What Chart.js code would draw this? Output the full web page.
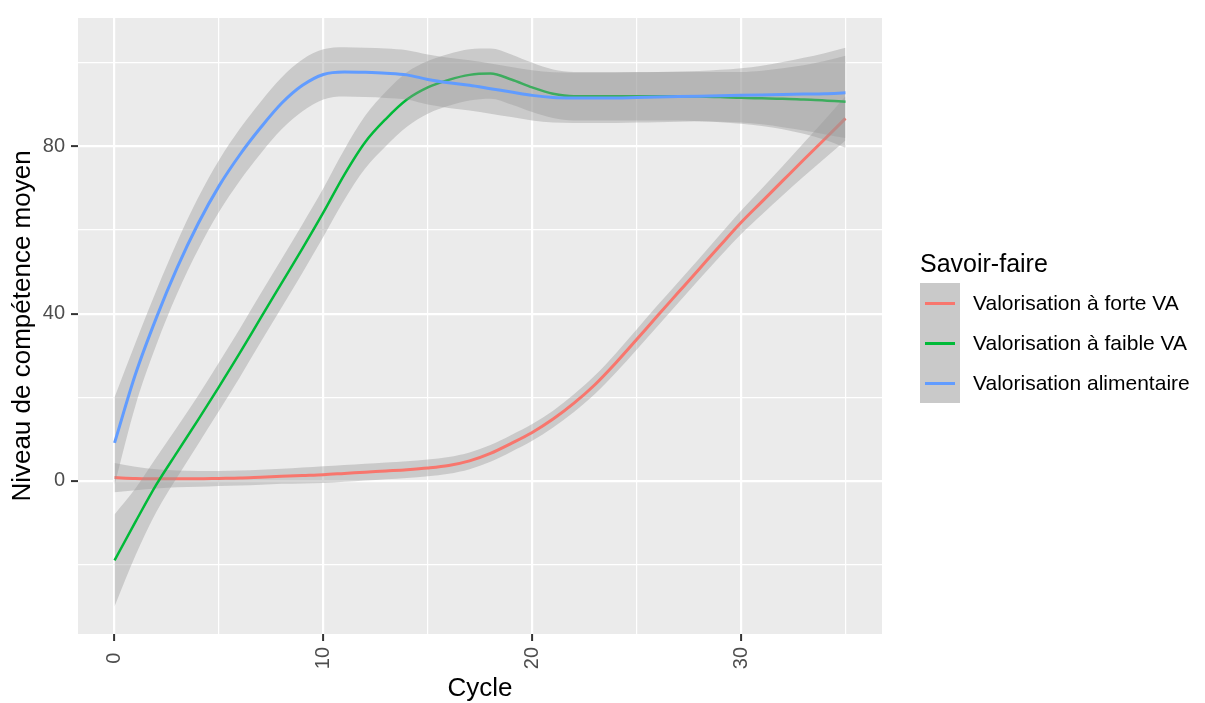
<!DOCTYPE html>
<html>
<head>
<meta charset="utf-8">
<title>Niveau de compétence moyen par cycle</title>
<script src="https://cdn.jsdelivr.net/npm/chart.js@4.4.1/dist/chart.umd.min.js"></script>
<style>
  body { margin: 0; background: #fff; font-family: "Liberation Sans", Arial, sans-serif; }
  #wrap { position: relative; width: 1205px; height: 703px; }
  #legend { position: absolute; left: 920px; top: 246px; }
  .legend-title { font-size: 25px; line-height: 34px; height: 37px; color: #000; }
  .legend-row { display: flex; align-items: center; height: 40px; }
  .legend-key { position: relative; width: 40px; height: 40px; background: #c9c9c9; }
  .legend-key span { position: absolute; left: 5px; right: 5px; top: 18.5px; height: 3px; }
  .legend-label { margin-left: 13px; font-size: 21px; color: #000; white-space: nowrap; }
</style>
</head>
<body>
<div id="wrap">
  <canvas id="myChart" width="1205" height="703"></canvas>
  <div id="legend">
    <div class="legend-title">Savoir-faire</div>
    <div id="legendItems"></div>
  </div>
</div>
<script>
const cycles = [0, 1, 2, 3, 4, 5, 6, 7, 8, 9, 10, 11, 12, 13, 14, 15, 16, 17,
    18, 19, 20, 21, 22, 23, 24, 25, 26, 27, 28, 29, 30, 31, 32, 33, 34, 35];

// Valorisation à forte VA
const forteFit = [0.8, 0.6, 0.5, 0.5, 0.5, 0.6, 0.7, 0.9, 1.1, 1.3, 1.5, 1.8, 2.1, 2.4, 2.7, 3.1, 3.7, 4.8,
    6.6, 9.0, 11.6, 14.8, 18.6, 23.0, 28.2, 33.8, 39.5, 45.1, 50.7, 56.3, 61.8, 66.8, 71.8, 76.8, 81.7, 86.7];
const forteLow = [-2.7, -2.2, -1.8, -1.5, -1.4, -1.2, -1.1, -0.9, -0.7, -0.6, -0.5, -0.2, 0.1, 0.4, 0.7, 1.1, 1.7, 2.8,
    4.6, 7.0, 9.6, 12.8, 16.5, 20.8, 25.9, 31.4, 37.0, 42.6, 48.2, 53.7, 59.0, 63.7, 68.3, 72.8, 77.1, 81.4];
const forteHigh = [4.3, 3.4, 2.8, 2.5, 2.4, 2.4, 2.5, 2.7, 2.9, 3.2, 3.5, 3.8, 4.1, 4.4, 4.7, 5.1, 5.7, 6.8,
    8.6, 11.0, 13.6, 16.8, 20.7, 25.2, 30.5, 36.2, 42.0, 47.6, 53.2, 58.9, 64.6, 69.9, 75.3, 80.8, 86.3, 92.0];

// Valorisation à faible VA
const faibleFit = [-19, -9.8, -0.9, 6.9, 14.6, 22.5, 30.6, 39, 47.3, 55.6, 64.2, 73.2, 81, 86.6, 91.2, 94.1, 95.9, 97.1,
    97.4, 96, 94.1, 92.6, 92.0, 92.0, 92.0, 92.0, 92.0, 92.0, 91.9, 91.8, 91.6, 91.5, 91.4, 91.2, 91.0, 90.7];
const faibleLow = [-30, -17.8, -7.4, 0.9, 8.8, 16.7, 24.8, 33.2, 41.5, 49.8, 58.4, 67.2, 74.7, 80.1, 84.7, 87.8, 89.7, 91.0,
    91.4, 90.0, 88.2, 86.8, 86.2, 86.2, 86.2, 86.2, 86.2, 86.2, 86.0, 85.8, 85.4, 84.9, 84.1, 83.0, 81.6, 79.7];
const faibleHigh = [-8, -1.8, 5.6, 12.9, 20.4, 28.3, 36.4, 44.8, 53.1, 61.4, 70.0, 79.2, 87.3, 93.1, 97.7, 100.4, 102.1, 103.2,
    103.4, 102.0, 100.0, 98.4, 97.8, 97.8, 97.8, 97.8, 97.8, 97.8, 97.8, 97.8, 97.8, 98.1, 98.7, 99.4, 100.4, 101.7];

// Valorisation alimentaire
const alimFit = [9.1, 25.5, 39, 51, 61.5, 70.5, 78, 84.5, 90.3, 94.6, 97.2, 97.8, 97.7, 97.5, 97.1, 96, 95.2, 94.6,
    93.8, 93, 92.2, 91.7, 91.6, 91.6, 91.6, 91.7, 91.8, 91.9, 92.0, 92.1, 92.2, 92.3, 92.4, 92.5, 92.6, 92.8];
const alimLow = [-1, 18, 32.5, 44.8, 55.3, 64.3, 71.8, 78.3, 84.1, 88.4, 91.2, 91.9, 91.8, 91.6, 91.2, 90.0, 89.2, 88.6,
    87.8, 87.0, 86.2, 85.7, 85.6, 85.6, 85.6, 85.7, 85.8, 85.9, 86.0, 85.9, 85.7, 85.3, 84.6, 83.8, 82.9, 82.0];
const alimHigh = [20, 33, 45.5, 57.2, 67.7, 76.7, 84.2, 90.7, 96.5, 100.8, 103.2, 103.7, 103.6, 103.4, 103.0, 102.0, 101.2, 100.6,
    99.8, 99.0, 98.2, 97.7, 97.6, 97.6, 97.6, 97.7, 97.8, 97.9, 98.0, 98.3, 98.7, 99.3, 100.2, 101.2, 102.3, 103.6];

const seriesNames = ['Valorisation à forte VA', 'Valorisation à faible VA', 'Valorisation alimentaire'];
const seriesColors = ['#F8766D', '#00BA38', '#619CFF'];

const xTicks = [0, 5, 10, 15, 20, 25, 30, 35];
const xLabels = [0, 10, 20, 30];
const yTicks = [-20, 0, 20, 40, 60, 80, 100];
const yLabels = [0, 40, 80];

const points = (values) => cycles.map((c, i) => ({ x: c, y: values[i] }));

const bandFill = 'rgba(153, 153, 153, 0.4)';
const none = 'rgba(0, 0, 0, 0)';

const groups = [
    [forteFit, forteLow, forteHigh],
    [faibleFit, faibleLow, faibleHigh],
    [alimFit, alimLow, alimHigh]
];

// ribbon (low, high) then line, for each group, like geom_smooth
const datasets = [];
groups.forEach((g, k) => {
    datasets.push({
        label: seriesNames[k] + ' (bas)',
        data: points(g[1]),
        borderColor: none, pointRadius: 0, fill: false
    });
    datasets.push({
        label: seriesNames[k] + ' (haut)',
        data: points(g[2]),
        borderColor: none, pointRadius: 0,
        fill: '-1', backgroundColor: bandFill
    });
    datasets.push({
        label: seriesNames[k],
        data: points(g[0]),
        borderColor: seriesColors[k],
        borderWidth: k === 1 ? 2.5 : 3,
        pointRadius: 0, fill: false
    });
});
datasets.forEach((d, i) => {
    d.order = datasets.length - i;
    d.cubicInterpolationMode = 'monotone';
});

const panelBackground = {
    id: 'panelBackground',
    beforeDraw(chart) {
        const a = chart.chartArea;
        const c = chart.ctx;
        c.save();
        c.fillStyle = '#EBEBEB';
        c.fillRect(a.left, a.top, a.right - a.left, a.bottom - a.top);
        c.restore();
    }
};

const tickFont = { family: '"Liberation Sans", Arial, sans-serif', size: 20 };
const titleFont = { family: '"Liberation Sans", Arial, sans-serif', size: 26, lineHeight: 1 };

var ctx = document.getElementById('myChart').getContext('2d');
var myChart = new Chart(ctx, {
    type: 'line',
    data: { datasets: datasets },
    plugins: [panelBackground],
    options: {
        responsive: false,
        animation: false,
        devicePixelRatio: 1,
        layout: { padding: { left: 0, top: 14, right: 323, bottom: 0 } },
        plugins: {
            legend: { display: false },
            tooltip: { enabled: false }
        },
        scales: {
            x: {
                type: 'linear',
                min: -1.75,
                max: 36.75,
                afterBuildTicks: (s) => { s.ticks = xTicks.map(v => ({ value: v })); },
                afterFit: (s) => { s.height = 69; },
                border: { display: false },
                grid: {
                    color: '#FFFFFF',
                    lineWidth: (c) => xLabels.includes(c.tick.value) ? 2.2 : 1.2,
                    tickLength: 7,
                    tickWidth: 2,
                    tickColor: (c) => xLabels.includes(c.tick.value) ? '#333333' : none
                },
                ticks: {
                    autoSkip: false,
                    minRotation: 90,
                    maxRotation: 90,
                    padding: 6,
                    color: '#4D4D4D',
                    font: tickFont,
                    // trailing space keeps the short label centred under its tick
                    callback: (v) => xLabels.includes(v) ? (String(v).length === 1 ? v + ' ' : String(v)) : ''
                },
                title: {
                    display: true,
                    text: 'Cycle',
                    color: '#000000',
                    font: titleFont,
                    padding: { top: 0, bottom: 1 }
                }
            },
            y: {
                type: 'linear',
                min: -36.6,
                max: 110.7,
                afterBuildTicks: (s) => { s.ticks = yTicks.map(v => ({ value: v })); },
                afterFit: (s) => { s.width = 78; },
                border: { display: false },
                grid: {
                    color: '#FFFFFF',
                    lineWidth: (c) => yLabels.includes(c.tick.value) ? 2.2 : 1.2,
                    tickLength: 7,
                    tickWidth: 2,
                    tickColor: (c) => yLabels.includes(c.tick.value) ? '#333333' : none
                },
                ticks: {
                    autoSkip: false,
                    padding: 6,
                    color: '#4D4D4D',
                    font: tickFont,
                    callback: (v) => yLabels.includes(v) ? String(v) : ''
                },
                title: {
                    display: true,
                    text: 'Niveau de compétence moyen',
                    color: '#000000',
                    font: titleFont,
                    padding: { top: 10, bottom: 0 }
                }
            }
        }
    }
});

// legend built from the series names and colours
const legendItems = document.getElementById('legendItems');
seriesNames.forEach((name, k) => {
    legendItems.innerHTML += `<div class="legend-row"><div class="legend-key"><span style="background:${seriesColors[k]}"></span></div><div class="legend-label">${name}</div></div>`;
});
</script>
</body>
</html>
